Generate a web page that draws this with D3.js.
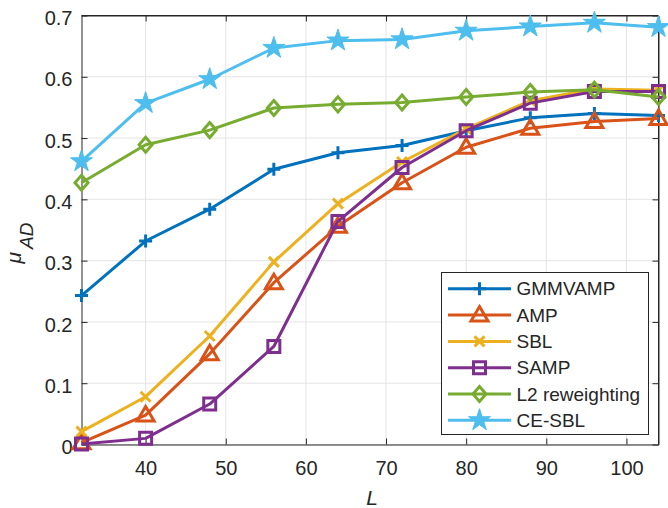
<!DOCTYPE html>
<html><head><meta charset="utf-8">
<script src="https://cdn.jsdelivr.net/npm/d3@7"></script>
<style>body{margin:0;background:#fff}svg{display:block}text{font-family:"Liberation Sans",Arial,Helvetica,sans-serif;fill:#262626}</style>
</head><body><svg id="c" width="668" height="508"></svg>
<script>
const L = [32, 40, 48, 56, 64, 72, 80, 88, 96, 104];
const seriesNames = ["GMMVAMP", "AMP", "SBL", "SAMP", "L2 reweighting", "CE-SBL"];
const gmmvamp = [0.243, 0.332, 0.384, 0.449, 0.476, 0.488, 0.512, 0.533, 0.540, 0.537];
const amp     = [0.003, 0.048, 0.148, 0.264, 0.356, 0.427, 0.485, 0.516, 0.527, 0.532];
const sbl     = [0.021, 0.078, 0.177, 0.298, 0.393, 0.461, 0.515, 0.561, 0.580, 0.578];
const samp    = [0.001, 0.010, 0.066, 0.160, 0.364, 0.452, 0.512, 0.557, 0.576, 0.576];
const l2      = [0.427, 0.489, 0.513, 0.549, 0.555, 0.558, 0.567, 0.575, 0.579, 0.567];
const cesbl   = [0.462, 0.557, 0.596, 0.647, 0.659, 0.661, 0.675, 0.682, 0.688, 0.681];
const xTicks = [40, 50, 60, 70, 80, 90, 100];
const yTicks = [0, 0.1, 0.2, 0.3, 0.4, 0.5, 0.6, 0.7];

const colors = ["#0072BD", "#D95319", "#EDB120", "#7E2F8E", "#77AC30", "#4DBEEE"];
const markers = ["plus", "triangle", "cross", "square", "diamond", "star"];
const allValues = [gmmvamp, amp, sbl, samp, l2, cesbl];

const svg = d3.select("#c");
const x = d3.scaleLinear().domain([32, 104]).range([81.5, 658.5]);
const y = d3.scaleLinear().domain([0, 0.7]).range([444.5, 15.5]);
const axisColor = "#262626";

// grid
const g = svg.append("g");
g.selectAll(".gx").data(xTicks).join("line")
  .attr("x1", d => x(d)).attr("x2", d => x(d)).attr("y1", y(0)).attr("y2", y(0.7))
  .attr("stroke", "#e4e4e4").attr("stroke-width", 1);
g.selectAll(".gy").data(yTicks).join("line")
  .attr("y1", d => y(d)).attr("y2", d => y(d)).attr("x1", x(32)).attr("x2", x(104))
  .attr("stroke", "#e4e4e4").attr("stroke-width", 1);

// axes
const tickLen = 6;
const xa = svg.append("g").attr("transform", `translate(0,${y(0)})`)
  .call(d3.axisBottom(x).tickValues(xTicks).tickSizeInner(-tickLen).tickSizeOuter(0).tickPadding(16));
const ya = svg.append("g").attr("transform", `translate(${x(32)},0)`)
  .call(d3.axisLeft(y).tickValues(yTicks).tickFormat(d => d === 0 ? "0" : d3.format(".1f")(d)).tickSizeInner(-tickLen).tickSizeOuter(0).tickPadding(9));
const xt = svg.append("g").attr("transform", `translate(0,${y(0.7)})`)
  .call(d3.axisTop(x).tickValues(xTicks).tickSizeInner(-tickLen).tickSizeOuter(0).tickFormat(""));
const yr = svg.append("g").attr("transform", `translate(${x(104)},0)`)
  .call(d3.axisRight(y).tickValues(yTicks).tickSizeInner(-tickLen).tickSizeOuter(0).tickFormat(""));
[xa, ya, xt, yr].forEach(a => {
  a.select(".domain").attr("stroke", axisColor).attr("stroke-width", 1);
  a.selectAll(".tick line").attr("stroke", axisColor);
  a.selectAll("text").attr("font-size", 20).attr("fill", axisColor)
   .style("font-family", '"Liberation Sans",Arial,sans-serif');
});
ya.selectAll("text").attr("dy", "0.46em");
// top edge and right edge full lines
svg.append("line").attr("x1", x(32)).attr("x2", x(104)).attr("y1", y(0.7)).attr("y2", y(0.7)).attr("stroke", axisColor);
svg.append("line").attr("x1", x(104)).attr("x2", x(104)).attr("y1", y(0.7)).attr("y2", y(0)).attr("stroke", axisColor);

// marker paths
function markerPath(type) {
  switch (type) {
    case "plus": return "M-6.5,0H6.5M0,-6.5V6.5";
    case "cross": return "M-5,-5L5,5M-5,5L5,-5";
    case "triangle": return "M0,-8.5L8.5,6L-8.5,6Z";
    case "square": return "M-6,-6H6V6H-6Z";
    case "diamond": return "M0,-7.5L6.5,0L0,7.5L-6.5,0Z";
    case "star": return d3.symbol(d3.symbolStar, 150)();
  }
}

const line = d3.line().x(d => x(d[0])).y(d => y(d[1]));
allValues.forEach((vals, i) => {
  const pts = L.map((l, j) => [l, vals[j]]);
  const sg = svg.append("g");
  sg.append("path").attr("d", line(pts)).attr("fill", "none")
    .attr("stroke", colors[i]).attr("stroke-width", 3).attr("stroke-linejoin", "round");
  sg.selectAll("path.m").data(pts).join("path").attr("class", "m")
    .attr("transform", d => `translate(${x(d[0])},${y(d[1])})`)
    .attr("d", markerPath(markers[i]))
    .attr("fill", markers[i] === "star" ? colors[i] : "none")
    .attr("stroke", colors[i]).attr("stroke-width", markers[i] === "star" ? 1 : 3)
    .attr("stroke-linejoin", "miter");
});

// legend
const lg = svg.append("g");
lg.append("rect").attr("x", 441.5).attr("y", 272.5).attr("width", 207).attr("height", 162)
  .attr("fill", "#fff").attr("stroke", axisColor).attr("stroke-width", 1);
seriesNames.forEach((name, i) => {
  const cy = 288.8 + i * 26.3;
  lg.append("line").attr("x1", 448).attr("x2", 511).attr("y1", cy).attr("y2", cy)
    .attr("stroke", colors[i]).attr("stroke-width", 3);
  lg.append("path").attr("transform", `translate(479.5,${cy})`).attr("d", markerPath(markers[i]))
    .attr("fill", markers[i] === "star" ? colors[i] : "none")
    .attr("stroke", colors[i]).attr("stroke-width", markers[i] === "star" ? 1 : 3);
  lg.append("text").attr("x", 516.5).attr("y", cy).attr("dy", "0.35em")
    .attr("font-size", 19).text(name);
});

// axis labels
svg.append("text").attr("x", 372).attr("y", 505).attr("text-anchor", "middle")
  .attr("font-size", 21).attr("font-style", "italic").text("L");
const yl = svg.append("text").attr("transform", "translate(21,243) rotate(-90)")
  .attr("text-anchor", "middle").attr("font-size", 21).attr("font-style", "italic");
yl.append("tspan").text("\u03BC");
yl.append("tspan").attr("dx", 3).attr("dy", 12).attr("font-size", 19).text("AD");
</script></body></html>
